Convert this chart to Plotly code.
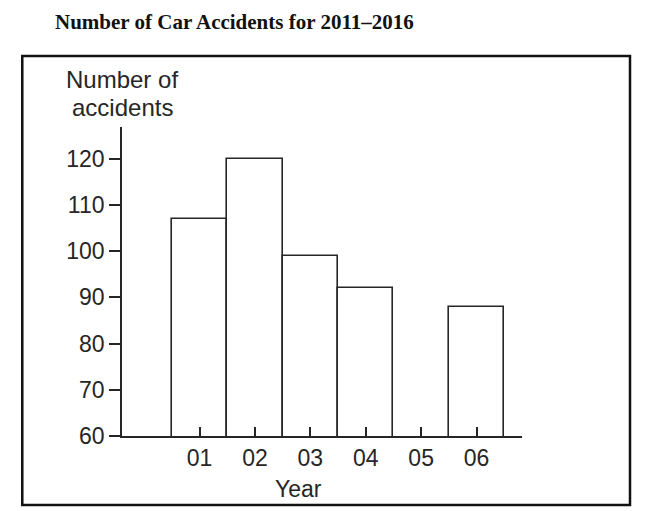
import plotly.graph_objects as go

# Car accidents per year (2011-2016), 05 has no bar
year = ['01', '02', '03', '04', '05', '06']
accident = [107, 120, 99, 92, None, 88]
tick_y = [60, 70, 80, 90, 100, 110, 120]

ink = '#262626'
sans = 'Liberation Sans, Arial, sans-serif'

# page body adds 8px, so positions below are shifted by -8
figure = go.Figure()
figure.add_trace(go.Bar(
    x=year, y=accident,
    marker=dict(color='white', line=dict(color=ink, width=1.6)),
    width=1.0,
))

figure.update_layout(
    width=650, height=511,
    margin=dict(l=114, r=136, t=119, b=83),
    paper_bgcolor='white', plot_bgcolor='white',
    showlegend=False, bargap=0,
    title=dict(text='<b>Number of Car Accidents for 2011–2016</b>',
               x=47/650, xanchor='left', y=1-13.5/511, yanchor='middle',
               font=dict(family='Liberation Serif, Times New Roman, serif', size=21, color='#111111')),
    font=dict(family=sans, size=22, color=ink),
)
figure.update_xaxes(
    type='category', range=[-1.40, 5.82],
    showline=True, linecolor=ink, linewidth=1.8,
    ticks='inside', ticklen=9, tickwidth=1.5, tickcolor=ink,
    showgrid=False, zeroline=False,
    tickfont=dict(size=23, color=ink),
)
figure.update_yaxes(
    range=[60, 126.9], tickvals=tick_y,
    showline=True, linecolor=ink, linewidth=1.8,
    ticks='outside', ticklen=11, tickwidth=1.5, tickcolor=ink,
    showgrid=False, zeroline=False,
    tickfont=dict(size=23, color=ink),
)

# outer frame
figure.add_shape(type='rect', xref='paper', yref='paper',
                 x0=-0.2493, x1=1.27, y0=-0.2233, y1=1.2298,
                 line=dict(color='#111111', width=2.5))

figure.add_annotation(text='Number of', xref='paper', yref='paper',
                      x=0, y=(436-80)/309, xanchor='center', yanchor='middle',
                      showarrow=False, font=dict(size=24, color=ink))
figure.add_annotation(text='accidents', xref='paper', yref='paper',
                      x=0, y=(436-108)/309, xanchor='center', yanchor='middle',
                      showarrow=False, font=dict(size=24, color=ink))
figure.add_annotation(text='Year', xref='paper', yref='paper',
                      x=(298-122)/400, y=(436-489)/309, xanchor='center', yanchor='middle',
                      showarrow=False, font=dict(size=23, color=ink))

figure.write_html('out.html')
